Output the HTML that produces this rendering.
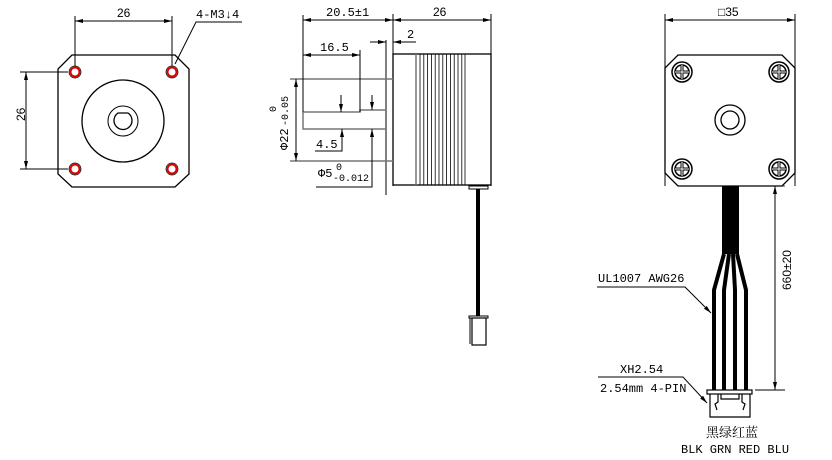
<!DOCTYPE html>
<html><head><meta charset="utf-8"><style>
html,body{margin:0;padding:0;background:#fff;}
svg{display:block;}
text{font-family:"Liberation Mono","Noto Serif CJK SC",monospace;font-size:12px;fill:#000;}
.s{font-family:"Liberation Sans",sans-serif;}
</style></head><body>
<svg width="832" height="460" viewBox="0 0 832 460" xmlns="http://www.w3.org/2000/svg">
<defs>
<marker id="a" markerWidth="8" markerHeight="6" refX="8" refY="3" orient="auto-start-reverse" markerUnits="userSpaceOnUse"><path d="M0,1 L8,3 L0,5 Z" fill="#000"/></marker>
</defs>
<g fill="none" stroke="#000" stroke-width="1">
<!-- LEFT VIEW -->
<path d="M72,55 L175,55 L189,69 L189,174 L175,187 L72,187 L58,174 L58,69 Z" stroke-width="1.3"/>
<circle cx="123" cy="121" r="41" stroke-width="1.3"/>
<circle cx="123" cy="121" r="15"/>
<path d="M118,113 L128,113 A9,9 0 1 1 118,113 Z" stroke-width="1.3"/>
<g stroke="#d00" stroke-width="2"><circle cx="75" cy="72" r="4.5"/><circle cx="172" cy="72" r="4.5"/><circle cx="75" cy="169" r="4.5"/><circle cx="172" cy="169" r="4.5"/></g>
<g stroke="#000" stroke-width="0.7"><circle cx="75" cy="72" r="6"/><circle cx="172" cy="72" r="6"/><circle cx="75" cy="169" r="6"/><circle cx="172" cy="169" r="6"/></g>
<line x1="75" y1="16" x2="75" y2="66"/><line x1="172" y1="16" x2="172" y2="66"/>
<line x1="75" y1="21" x2="172" y2="21" marker-start="url(#a)" marker-end="url(#a)"/>
<line x1="20" y1="72" x2="68" y2="72"/><line x1="20" y1="169" x2="68" y2="169"/>
<line x1="26" y1="72" x2="26" y2="169" marker-start="url(#a)" marker-end="url(#a)"/>
<polyline points="175,64 196,22 242,22"/>
<!-- MIDDLE VIEW -->
<line x1="393" y1="14" x2="393" y2="186"/><line x1="491" y1="14" x2="491" y2="186"/>
<rect x="393" y="54" width="98" height="131" stroke-width="1.3"/>
<line x1="416" y1="54" x2="416" y2="185" stroke="#777" stroke-width="1.5"/>
<g stroke-width="0.8">
<line x1="420" y1="54" x2="420" y2="185"/><line x1="423.8" y1="54" x2="423.8" y2="185"/><line x1="427.6" y1="54" x2="427.6" y2="185"/><line x1="431.4" y1="54" x2="431.4" y2="185"/><line x1="435.2" y1="54" x2="435.2" y2="185"/><line x1="439" y1="54" x2="439" y2="185"/><line x1="442.8" y1="54" x2="442.8" y2="185"/><line x1="446.6" y1="54" x2="446.6" y2="185"/><line x1="450.4" y1="54" x2="450.4" y2="185"/><line x1="454.2" y1="54" x2="454.2" y2="185"/><line x1="458" y1="54" x2="458" y2="185"/><line x1="461.8" y1="54" x2="461.8" y2="185"/><line x1="465" y1="54" x2="465" y2="185"/>
</g>
<line x1="386" y1="40" x2="386" y2="195"/>
<g stroke="#777" stroke-width="1.5">
<line x1="290" y1="79" x2="393" y2="79"/><line x1="290" y1="161" x2="393" y2="161"/>
<polyline points="303,112 360,112 360,110 386,110"/>
<polyline points="303,112 303,129 386,129"/>
</g>
<line x1="360" y1="50" x2="360" y2="112"/>
<line x1="303" y1="15" x2="303" y2="112"/>
<line x1="303" y1="20" x2="393" y2="20" marker-start="url(#a)" marker-end="url(#a)"/>
<line x1="393" y1="20" x2="491" y2="20" marker-start="url(#a)" marker-end="url(#a)"/>
<line x1="303" y1="55" x2="360" y2="55" marker-start="url(#a)" marker-end="url(#a)"/>
<line x1="370" y1="42" x2="386" y2="42" marker-end="url(#a)"/>
<line x1="416" y1="42" x2="393" y2="42" marker-end="url(#a)"/>
<line x1="296" y1="79" x2="296" y2="161" marker-start="url(#a)" marker-end="url(#a)"/>
<line x1="341" y1="95" x2="341" y2="112" marker-end="url(#a)"/>
<polyline points="315,151 342,151 342,129" marker-end="url(#a)"/>
<line x1="372" y1="95" x2="372" y2="110" marker-end="url(#a)"/>
<polyline points="316,187 372,187 372,129" marker-end="url(#a)"/>
<rect x="469" y="186" width="19" height="3"/>
<rect x="472" y="318" width="14" height="27" stroke-width="1.2"/>
<rect x="469" y="316" width="19" height="2"/>
<line x1="470" y1="318" x2="470" y2="344"/>
<!-- RIGHT VIEW -->
<line x1="665" y1="14" x2="665" y2="186"/><line x1="795" y1="14" x2="795" y2="186"/>
<line x1="665" y1="20" x2="795" y2="20" marker-start="url(#a)" marker-end="url(#a)"/>
<path d="M678,55 L782,55 L795,68 L795,173 L782,186 L678,186 L665,173 L665,68 Z" stroke-width="1.3"/>
<circle cx="730" cy="120" r="15" stroke-width="1.3"/><circle cx="730" cy="120" r="9" stroke-width="1.3"/>
<g stroke-width="1.5">
<circle cx="682" cy="72" r="10"/><circle cx="779" cy="72" r="10"/><circle cx="682" cy="169" r="10"/><circle cx="779" cy="169" r="10"/>
<circle cx="682" cy="72" r="7"/><circle cx="779" cy="72" r="7"/><circle cx="682" cy="169" r="7"/><circle cx="779" cy="169" r="7"/>
</g>
<g stroke-width="3" stroke="#000">
<path d="M675,72 h14 M682,65 v14 M772,72 h14 M779,65 v14 M675,169 h14 M682,162 v14 M772,169 h14 M779,162 v14"/>
</g>
<g stroke="#fff" stroke-width="1">
<path d="M675,72 h14 M682,65 v14 M772,72 h14 M779,65 v14 M675,169 h14 M682,162 v14 M772,169 h14 M779,162 v14"/>
</g>
<line x1="740" y1="186" x2="785" y2="186" stroke-width="0.8"/>
<line x1="775" y1="186" x2="775" y2="390" marker-start="url(#a)" marker-end="url(#a)"/>
<line x1="755" y1="390" x2="785" y2="390"/>
<polyline points="597,287 685,287 711,313" marker-end="url(#a)"/>
<polyline points="598,377 683,377 707,403" marker-end="url(#a)"/>
<rect x="707" y="390" width="45" height="4" stroke-width="1.2"/>
<path d="M710,394 L710,417 L750,417 L750,394 M718,394 L718,402 L715,404 L717,410 M742,394 L742,402 L745,404 L743,410 M721,394 L721,399 L739,399 L739,394" stroke-width="1.2"/>
</g>
<!-- cable middle -->
<rect x="476" y="189" width="4" height="127" fill="#000"/>
<!-- wire bundle right -->
<rect x="722" y="186" width="17" height="68" fill="#000"/>
<g stroke="#000" stroke-width="4" fill="none">
<polyline points="724,254 714,290 714,390"/>
<polyline points="729,254 724,290 724,390"/>
<polyline points="733,254 735,290 735,390"/>
<polyline points="737,254 746,290 746,390"/>
</g>
<!-- TEXT -->
<text class="s" x="117" y="17">26</text>
<text x="196" y="18">4-M3↓4</text>
<text class="s" x="18" y="128" transform="rotate(-90 18 121)">26</text>
<text x="326" y="16">20.5±1</text>
<text class="s" x="433" y="16">26</text>
<text x="407" y="38">2</text>
<text x="320" y="51">16.5</text>
<text x="316" y="148">4.5</text>
<text x="318" y="177">Φ5</text>
<text x="336" y="170" style="font-size:10px">0</text>
<text x="333" y="181" style="font-size:10px">-0.012</text>
<text x="288" y="150" transform="rotate(-90 288 150)">Φ22</text>
<text x="276" y="112" style="font-size:10px" transform="rotate(-90 276 112)">0</text>
<text x="288" y="126" style="font-size:10px" transform="rotate(-90 288 126)">-0.05</text>
<text class="s" x="718" y="16"><tspan>□</tspan>35</text>
<text x="598" y="282">UL1007 AWG26</text>
<text x="620" y="373">XH2.54</text>
<text x="600" y="392">2.54mm 4-PIN</text>
<text class="s" x="791" y="290" transform="rotate(-90 791 290)" style="font-size:12px">660±20</text>
<text x="706" y="437" style="font-family:'Noto Serif CJK SC',serif;font-size:13px">黑绿红蓝</text>
<text x="681" y="453">BLK GRN RED BLU</text>
</svg>
</body></html>
